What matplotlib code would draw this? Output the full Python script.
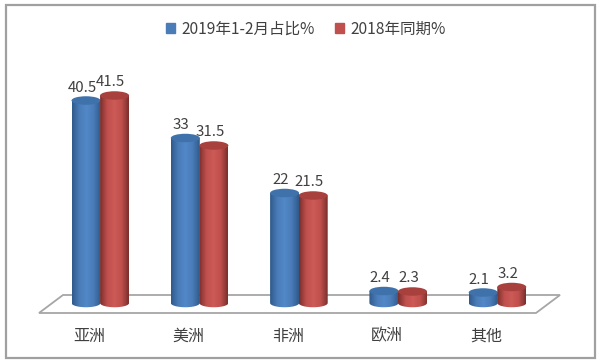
import matplotlib
matplotlib.use('Agg')
import matplotlib.pyplot as plt
import numpy as np
from matplotlib.colors import LinearSegmentedColormap
from matplotlib.patches import Ellipse, Patch, Polygon, Rectangle
from matplotlib.path import Path

plt.rcParams['font.family'] = ['Noto Sans CJK SC', 'DejaVu Sans']

categories = ['亚洲', '美洲', '非洲', '欧洲', '其他']
share_2019 = [40.5, 33, 22, 2.4, 2.1]
share_2018 = [41.5, 31.5, 21.5, 2.3, 3.2]
series_names = ['2019年1-2月占比%', '2018年同期%']

W, H = 600, 363
PX_PER_CAT = 99.3
PX_PER_VAL = 5.0
X0_PX = 100.3  # pixel of first category
Y0_PX = 303    # pixel of value 0
BAR_W = 29 / PX_PER_CAT
CAP_H = 8.5 / PX_PER_VAL
TEXT_COLOR = '#404040'


def side_cmap(mid, dark, light):
    return LinearSegmentedColormap.from_list('side', [
        (0, dark), (0.25, mid), (0.5, light), (0.75, mid), (1, dark)])


blue_map = side_cmap('#4a7cb8', '#2f5a8c', '#5288c8')
red_map = side_cmap('#c0504d', '#7a2f2d', '#cc5a57')


def draw_cylinder(ax, x, value, cmap, cap_color, z):
    left, right = x - BAR_W / 2, x + BAR_W / 2
    t = np.linspace(0, np.pi, 40)
    bottom_x = x - np.cos(t) * BAR_W / 2
    bottom_y = -np.sin(t) * CAP_H / 2
    outline = np.column_stack([
        np.r_[left, bottom_x, right, left],
        np.r_[value, bottom_y, value, value]])
    grad = np.linspace(0, 1, 64).reshape(1, -1)
    img = ax.imshow(grad, cmap=cmap, extent=(left, right, -CAP_H, value),
                    aspect='auto', zorder=z, interpolation='bilinear')
    codes = [Path.MOVETO] + [Path.LINETO] * (len(outline) - 2) + [Path.CLOSEPOLY]
    img.set_clip_path(Path(outline, codes), transform=ax.transData)
    ax.add_patch(Ellipse((x, value), BAR_W, CAP_H, fc=cap_color, ec='none', zorder=z + 0.1))


fig = plt.figure(figsize=(W / 100, H / 100), dpi=100)
ax = fig.add_axes([0, 0, 1, 1])
x_lim = ((0 - X0_PX) / PX_PER_CAT, (W - X0_PX) / PX_PER_CAT)
y_lim = ((Y0_PX - H) / PX_PER_VAL, Y0_PX / PX_PER_VAL)


def px(x, y):
    return ((x - X0_PX) / PX_PER_CAT, (Y0_PX - y) / PX_PER_VAL)


# outer frame and the floor of the 3d chart
ax.add_patch(Rectangle(px(5.5, 358), 589.5 / PX_PER_CAT, 353 / PX_PER_VAL,
                       fc='white', ec='#a0a0a0', lw=1.6, zorder=1))
ax.add_patch(Polygon([px(39, 313), px(536, 313), px(560, 295), px(63, 295)],
                     fc='white', ec='#a6a6a6', lw=1.3, zorder=2))

xs = np.arange(len(categories))
offset = 14.3 / PX_PER_CAT
for i in xs:
    draw_cylinder(ax, i - offset, share_2019[i], blue_map, '#3f72ab', 3 + i)
    draw_cylinder(ax, i + offset, share_2018[i], red_map, '#a8413e', 3.5 + i)
    for dx, val in ((-offset, share_2019[i]), (offset, share_2018[i])):
        ax.annotate(str(val), (i + dx, val), xytext=(-4, 13), textcoords='offset pixels',
                    ha='center', va='center', fontsize=10.8, color=TEXT_COLOR, zorder=20)
    ax.annotate(categories[i], (i, 0), xytext=(-11, -33), textcoords='offset pixels',
                ha='center', va='center', fontsize=11.5, color=TEXT_COLOR, zorder=20)

handles = [Patch(color='#4a7cb8'), Patch(color='#c0504d')]
ax.legend(handles, series_names, ncol=2, frameon=False, loc='center',
          bbox_to_anchor=(306 / W, 1 - 29 / H), fontsize=11.2, labelcolor=TEXT_COLOR,
          handlelength=0.6, handleheight=0.6, handletextpad=0.4, columnspacing=1.3)

ax.set_xlim(x_lim)
ax.set_ylim(y_lim)
ax.axis('off')
fig.savefig('out.png', dpi=100)
